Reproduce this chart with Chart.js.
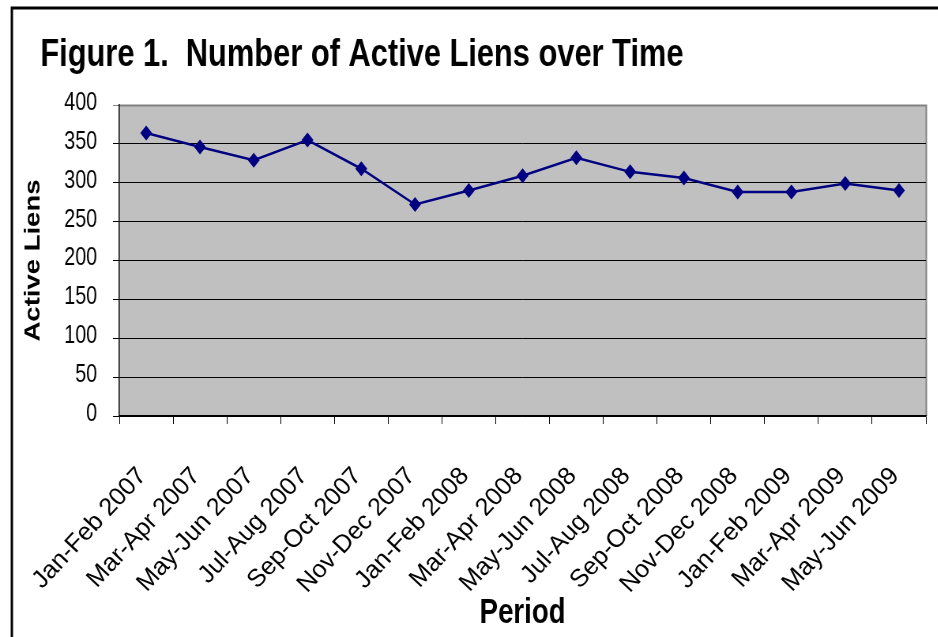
<!DOCTYPE html>
<html>
<head>
<meta charset="utf-8">
<title>Number of Active Liens over Time</title>
<script src="https://cdn.jsdelivr.net/npm/chart.js@4.4.0/dist/chart.umd.min.js"></script>
<style>
  body { margin: 0; background: #fff; overflow: hidden; }
  /* the source figure was squeezed sideways, so draw wide and squeeze it */
  #wrap { width: 938px; height: 637px; overflow: hidden; }
  #liens { transform: scaleX(0.79); transform-origin: 0 0; }
</style>
</head>
<body>
<div id="wrap"><canvas id="liens" width="1187" height="637"></canvas></div>
<script>
const periods = ['Jan-Feb 2007', 'Mar-Apr 2007', 'May-Jun 2007', 'Jul-Aug 2007', 'Sep-Oct 2007',
  'Nov-Dec 2007', 'Jan-Feb 2008', 'Mar-Apr 2008', 'May-Jun 2008', 'Jul-Aug 2008',
  'Sep-Oct 2008', 'Nov-Dec 2008', 'Jan-Feb 2009', 'Mar-Apr 2009', 'May-Jun 2009'];
const activeLiens = [364, 346, 329, 355, 318, 272, 290, 309, 332, 314, 306, 288, 288, 299, 290];
const yTickValues = [0, 50, 100, 150, 200, 250, 300, 350, 400];

const FONT = "'Liberation Sans', Arial, sans-serif";
const SQUEEZE = 0.79;

// grey plot area and the outer frame round the figure
const plotBackground = {
  id: 'plotBackground',
  beforeDraw(chart) {
    const {ctx, chartArea: a} = chart;
    ctx.save();
    ctx.strokeStyle = '#000';
    ctx.lineWidth = 3;
    ctx.strokeRect(15, 8, 1300, 1000);
    ctx.fillStyle = '#c0c0c0';
    ctx.fillRect(a.left, a.top, a.right - a.left, a.bottom - a.top);
    ctx.strokeStyle = '#808080';
    ctx.lineWidth = 2;
    ctx.beginPath();
    ctx.moveTo(a.left, a.top + 0.5);
    ctx.lineTo(a.right + 0.5, a.top + 0.5);
    ctx.lineTo(a.right + 0.5, a.bottom);
    ctx.stroke();
    ctx.restore();
  }
};

// slanted period labels are not squeezed in the source, so undo the squeeze for them
const periodLabels = {
  id: 'periodLabels',
  afterDraw(chart) {
    const {ctx} = chart;
    const x = chart.scales.x;
    ctx.save();
    ctx.font = '25px ' + FONT;
    ctx.fillStyle = '#000';
    ctx.textAlign = 'right';
    ctx.textBaseline = 'middle';
    x.ticks.forEach((t, i) => {
      ctx.save();
      ctx.translate(x.getPixelForTick(i) - 5, x.top + 56);
      ctx.scale(1 / SQUEEZE, 1);
      ctx.rotate(-47 * Math.PI / 180);
      ctx.fillText(x.getLabelForValue(t.value), 0, 0);
      ctx.restore();
    });
    ctx.restore();
  }
};

new Chart(document.getElementById('liens'), {
  type: 'line',
  data: {
    labels: periods,
    datasets: [{
      label: 'Active Liens',
      data: activeLiens,
      borderColor: '#000080',
      backgroundColor: '#000080',
      borderWidth: 2.5,
      pointStyle: 'rectRot',
      pointRadius: 7.5,
      pointBorderWidth: 0
    }]
  },
  options: {
    responsive: false,
    animation: false,
    devicePixelRatio: 1,
    layout: { padding: { left: 51, right: 15, top: 0, bottom: 0 } },
    plugins: {
      legend: { display: false },
      tooltip: { enabled: false },
      title: {
        display: true,
        text: 'Figure 1.  Number of Active Liens over Time',
        align: 'start',
        color: '#000',
        font: { family: FONT, size: 39, weight: 'bold', lineHeight: 1.2 },
        padding: { top: 32, bottom: 26.2 }
      }
    },
    scales: {
      x: {
        offset: true,
        grid: { offset: true, drawOnChartArea: false, tickLength: 8, color: '#000' },
        border: { color: '#000', width: 1.5 },
        ticks: { display: false, autoSkip: false },
        title: {
          display: true, text: 'Period', color: '#000',
          font: { family: FONT, size: 35, weight: 'bold' },
          padding: { top: 0, bottom: 3 }
        },
        afterFit(s) { s.height = 221; s.paddingLeft = 0; s.paddingRight = 0; }
      },
      y: {
        min: 0,
        max: 400,
        afterBuildTicks(s) { s.ticks = yTickValues.map(v => ({ value: v })); },
        grid: { color: c => c.tick && c.tick.value === 400 ? '#808080' : '#000', tickLength: 8 },
        border: { color: '#000', width: 1.5 },
        ticks: { padding: 20, labelOffset: -2, color: '#000', font: { family: FONT, size: 25 } },
        title: {
          display: true, text: 'Active Liens', color: '#000',
          font: { family: FONT, size: 27.5, weight: 'bold' },
          padding: { top: -25, bottom: 0 }
        },
        afterFit(s) { s.width = 100; }
      }
    }
  },
  plugins: [plotBackground, periodLabels]
});
</script>
</body>
</html>
